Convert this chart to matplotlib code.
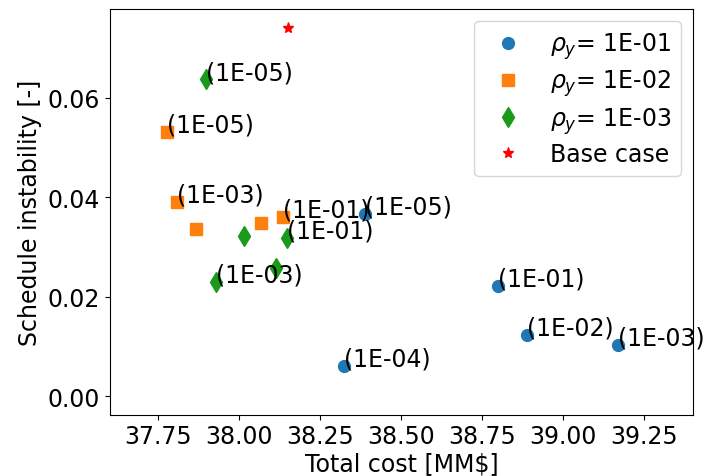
import matplotlib
matplotlib.use("Agg")
import matplotlib.pyplot as plt

# Data
blue_x = [38.388, 38.798, 38.888, 39.169, 38.323]
blue_y = [0.0367, 0.0222, 0.01236, 0.01035, 0.00613]
blue_lbl = ["(1E-05)", "(1E-01)", "(1E-02)", "(1E-03)", "(1E-04)"]

orange_x = [37.777, 37.808, 37.867, 38.067, 38.135]
orange_y = [0.0532, 0.0391, 0.0336, 0.0349, 0.0361]
orange_lbl = ["(1E-05)", "(1E-03)", "", "", "(1E-01)"]

green_x = [37.897, 38.015, 38.147, 38.113, 37.928]
green_y = [0.0638, 0.0323, 0.0319, 0.0258, 0.0230]
green_lbl = ["(1E-05)", "", "(1E-01)", "", "(1E-03)"]

base_x = [38.150]
base_y = [0.0741]

series_names = [r"$\rho_y$= 1E-01", r"$\rho_y$= 1E-02", r"$\rho_y$= 1E-03", "Base case"]

fs = 17
fig = plt.figure(figsize=(7.07, 4.77), dpi=100)
ax = fig.add_axes([0.1556, 0.1285, 0.9798 - 0.1556, 0.979 - 0.1285])

ax.plot(blue_x, blue_y, "o", color="#1f77b4", markersize=8.5, linestyle="none", label=series_names[0])
ax.plot(orange_x, orange_y, "s", color="#ff7f0e", markersize=8.5, linestyle="none", label=series_names[1])
ax.plot(green_x, green_y, "d", color="#1a9a1a", markersize=10, linestyle="none", label=series_names[2])
ax.plot(base_x, base_y, "*", color="red", markersize=8, linestyle="none", label=series_names[3])

for xs, ys, ls in [(blue_x, blue_y, blue_lbl), (orange_x, orange_y, orange_lbl), (green_x, green_y, green_lbl)]:
    for x, y, l in zip(xs, ys, ls):
        if l:
            ax.annotate(l, (x, y), fontsize=fs)

ax.set_xlim(37.601, 39.399)
ax.set_ylim(-0.00376, 0.0779)
ax.set_xticks([37.75, 38.00, 38.25, 38.50, 38.75, 39.00, 39.25])
ax.set_xticklabels(["37.75", "38.00", "38.25", "38.50", "38.75", "39.00", "39.25"])
ax.set_yticks([0.00, 0.02, 0.04, 0.06])
ax.set_yticklabels(["0.00", "0.02", "0.04", "0.06"])
ax.tick_params(labelsize=fs)
ax.set_xlabel("Total cost [MM$]", fontsize=fs, labelpad=2)
ax.set_ylabel("Schedule instability [-]", fontsize=fs)
ax.legend(loc="upper right", fontsize=fs, labelspacing=0.28)

fig.savefig("out.png", dpi=100)
